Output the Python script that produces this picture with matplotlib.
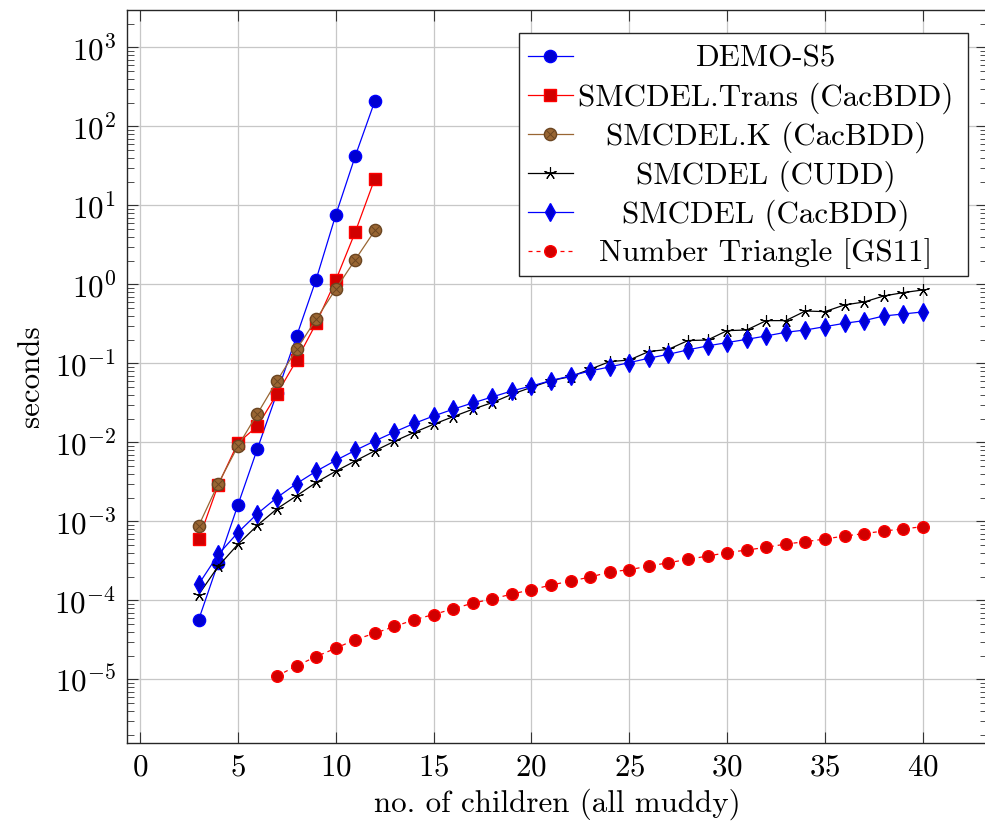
import numpy as np
import matplotlib
matplotlib.use("Agg")
import matplotlib.pyplot as plt
from matplotlib.lines import Line2D
from matplotlib.patches import Rectangle
from matplotlib.ticker import LogLocator, NullFormatter

plt.rcParams['font.family'] = ['cmr10', 'DejaVu Serif']
plt.rcParams['mathtext.fontset'] = 'cm'
plt.rcParams['axes.formatter.use_mathtext'] = True
plt.rcParams['axes.unicode_minus'] = True

# ---------------- data ----------------
x_demo = [3, 4, 5, 6, 7, 8, 9, 10, 11, 12]
demo_s5 = [5.7e-5, 3.0e-4, 1.6e-3, 8.3e-3, 0.042, 0.22, 1.15, 7.5, 42, 209]

x_trans = [3, 4, 5, 6, 7, 8, 9, 10, 11, 12]
smcdel_trans = [5.9e-4, 2.9e-3, 9.8e-3, 0.016, 0.041, 0.109, 0.32, 1.12, 4.6, 21.8]

x_k = [3, 4, 5, 6, 7, 8, 9, 10, 11, 12]
smcdel_k = [8.8e-4, 3.0e-3, 8.9e-3, 0.023, 0.060, 0.15, 0.36, 0.87, 2.05, 4.8]

x_bdd = list(range(3, 41))
smcdel_cudd = [1.18e-4, 2.7e-4, 5.1e-4, 8.9e-4, 1.44e-3, 2.1e-3, 3.1e-3, 4.3e-3,
               5.8e-3, 7.8e-3, 0.0103, 0.0133, 0.0169, 0.0211, 0.0262, 0.0318,
               0.0405, 0.0497, 0.0604, 0.0678, 0.084, 0.105, 0.110, 0.141,
               0.150, 0.194, 0.197, 0.259, 0.264, 0.347, 0.347, 0.459, 0.451,
               0.548, 0.597, 0.711, 0.785, 0.848]
smcdel_cac = [1.6e-4, 3.8e-4, 7.2e-4, 1.25e-3, 2.0e-3, 3.0e-3, 4.3e-3, 5.9e-3,
              7.9e-3, 0.0104, 0.0135, 0.0173, 0.0215, 0.0262, 0.0315, 0.0375,
              0.0447, 0.0516, 0.0604, 0.0692, 0.080, 0.090, 0.102, 0.116,
              0.130, 0.148, 0.166, 0.183, 0.201, 0.222, 0.247, 0.264, 0.291,
              0.321, 0.347, 0.397, 0.421, 0.447]

x_tri = list(range(7, 41))
number_triangle = [1.10e-5, 1.48e-5, 1.94e-5, 2.47e-5, 3.18e-5, 3.83e-5, 4.66e-5,
                   5.66e-5, 6.61e-5, 7.80e-5, 9.2e-5, 1.04e-4, 1.20e-4, 1.36e-4,
                   1.56e-4, 1.75e-4, 1.97e-4, 2.28e-4, 2.44e-4, 2.71e-4, 2.99e-4,
                   3.30e-4, 3.63e-4, 4.01e-4, 4.33e-4, 4.68e-4, 5.16e-4, 5.52e-4,
                   5.97e-4, 6.51e-4, 6.98e-4, 7.54e-4, 8.0e-4, 8.56e-4]

labels = ["DEMO-S5", "SMCDEL.Trans (CacBDD)", "SMCDEL.K (CacBDD)",
          "SMCDEL (CUDD)", "SMCDEL (CacBDD)", "Number Triangle [GS11]"]
x_ticks = [0, 5, 10, 15, 20, 25, 30, 35, 40]
y_ticks = [1e-5, 1e-4, 1e-3, 1e-2, 1e-1, 1e0, 1e1, 1e2, 1e3]

# ---------------- styles ----------------
W, H = 985, 827
FS = 22.3
fig = plt.figure(figsize=(W / 100, H / 100), dpi=100)
ax_l, ax_r, ax_t, ax_b = 127, 987, 10, 742.7
ax = fig.add_axes([ax_l / W, (H - ax_b) / H, (ax_r - ax_l) / W, (ax_b - ax_t) / H])

BLUE = (0, 0, 1)
BLUE_F = (0, 0, 0.82)
RED = (1, 0, 0)
RED_F = (0.82, 0, 0)
BROWN = (0.6, 0.4, 0.2)
BROWN_F = (0.6, 0.4, 0.2)
BROWN_D = (0.42, 0.27, 0.13)
lw = 0.9
ms = 8.8

styles = [
    dict(color=BLUE, marker='o', mfc=BLUE_F, mec=BLUE, ms=ms, lw=lw, ls='-'),
    dict(color=RED, marker='s', mfc=RED_F, mec=RED, ms=ms * 0.95, lw=lw, ls='-'),
    dict(color=BROWN, marker='o', mfc=BROWN_F, mec=BROWN_D, ms=ms, lw=lw, ls='-'),
    dict(color='black', marker=(5, 2, 0), mfc='black', mec='black', ms=9, mew=0.8, lw=lw, ls='-'),
    dict(color=BLUE, marker='d', mfc=BLUE_F, mec=BLUE, ms=ms, lw=lw, ls='-'),
    dict(color=RED, marker='o', mfc=RED_F, mec=RED, ms=ms * 0.95, lw=lw, ls=(0, (3.2, 3.2))),
]
otimes = dict(ls='none', marker='x', mec=BROWN_D, ms=ms * 0.62, mew=0.7)

series = [(x_demo, demo_s5), (x_trans, smcdel_trans), (x_k, smcdel_k),
          (x_bdd, smcdel_cudd), (x_bdd, smcdel_cac), (x_tri, number_triangle)]

for (xs, ys), st, lab in zip(series, styles, labels):
    ax.plot(xs, ys, label=lab, zorder=3, **st)
    if lab.startswith("SMCDEL.K"):
        ax.plot(xs, ys, zorder=3.1, **otimes)

ax.set_yscale('log')
ax.set_xlim((ax_l - 140) / 19.57, (ax_r - 140) / 19.57)
ax.set_ylim(10 ** ((284.3 - ax_b) / 79.0), 10 ** ((284.3 - ax_t) / 79.0))
ax.set_xticks(x_ticks)
ax.set_yticks(y_ticks)
ax.yaxis.set_minor_locator(LogLocator(base=10, subs=np.arange(2, 10), numticks=100))
ax.yaxis.set_minor_formatter(NullFormatter())

ax.grid(True, which='major', color=(0.78, 0.78, 0.78), lw=0.9)
ax.set_axisbelow(True)
ax.tick_params(which='major', direction='in', length=8, width=0.8, top=True, right=True,
               labelsize=FS, pad=8, color=(0.2, 0.2, 0.2))
ax.tick_params(which='minor', direction='in', length=5, width=0.7, top=False, right=True,
               color=(0.3, 0.3, 0.3))
ax.tick_params(axis='x', which='minor', bottom=False, top=False)
for s in ax.spines.values():
    s.set_linewidth(1.0)
    s.set_color((0.15, 0.15, 0.15))

ax.set_xlabel("no. of children (all muddy)", fontsize=FS, labelpad=5)
ax.set_ylabel("seconds", fontsize=FS, labelpad=7)

# ---------------- legend (centered labels, drawn in axes coords) ----------------
def ax_xy(px, py):
    return (px - ax_l) / (ax_r - ax_l), (ax_b - py) / (ax_b - ax_t)

fx0, fy0 = ax_xy(519, 276.3)
fx1, fy1 = ax_xy(968.3, 32.7)
ax.add_patch(Rectangle((fx0, fy0), fx1 - fx0, fy1 - fy0, transform=ax.transAxes,
                       facecolor='white', edgecolor=(0.15, 0.15, 0.15), lw=1.0, zorder=5))
row_y = [56, 95, 134, 173, 212, 251]
for i, (st, lab) in enumerate(zip(styles, labels)):
    hx0, hy = ax_xy(527.7, row_y[i])
    hx1, _ = ax_xy(573.3, row_y[i])
    mx, _ = ax_xy(550.5, row_y[i])
    line_st = {k: v for k, v in st.items() if k not in ('marker', 'mfc', 'mec', 'ms', 'mew')}
    ax.add_line(Line2D([hx0, hx1], [hy, hy], transform=ax.transAxes, zorder=6, **line_st))
    ax.add_line(Line2D([mx], [hy], transform=ax.transAxes, zorder=6.1, ls='none',
                       marker=st['marker'], mfc=st['mfc'], mec=st['mec'], ms=st['ms'],
                       mew=st.get('mew', 1.0)))
    if lab.startswith("SMCDEL.K"):
        ax.add_line(Line2D([mx], [hy], transform=ax.transAxes, zorder=6.2, **otimes))
    tx, ty = ax_xy(766, row_y[i] + 10.5)
    ax.text(tx, ty, lab, transform=ax.transAxes, ha='center', va='baseline',
            fontsize=FS, zorder=7)

fig.savefig("out.png", dpi=100)
